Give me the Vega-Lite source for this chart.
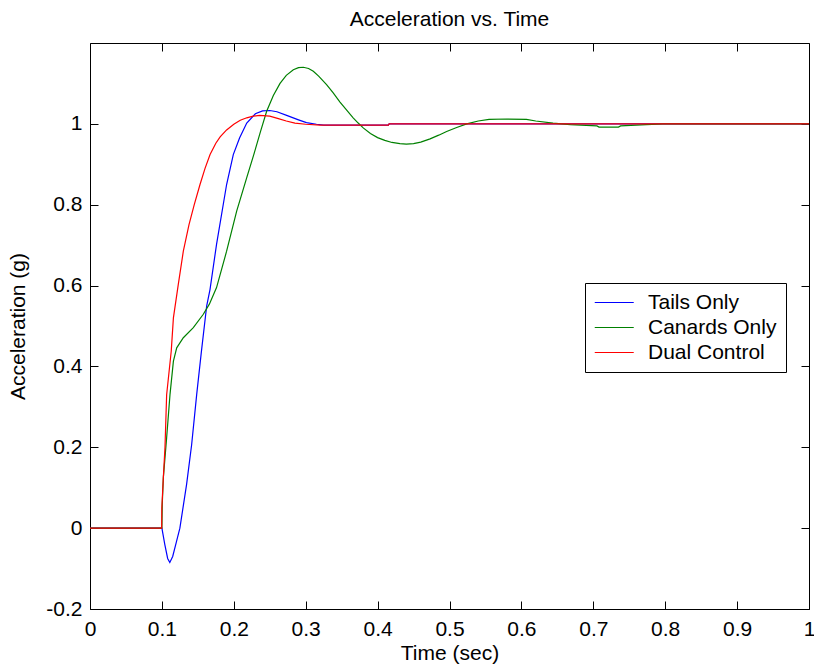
{
  "$schema": "https://vega.github.io/schema/vega-lite/v6.json",
  "width": 719,
  "height": 566,
  "autosize": {"type": "none"},
  "padding": {"left": 90, "top": 43, "right": 5, "bottom": 61},
  "background": "#ffffff",
  "title": {"text": "Acceleration vs. Time", "fontSize": 21, "font": "Liberation Sans", "fontWeight": "normal", "color": "#000", "anchor": "middle", "offset": 13},
  "config": {
    "view": {"stroke": "#000", "strokeWidth": 1},
    "axis": {"grid": false, "domain": false, "tickColor": "#000", "tickSize": -8, "labelFlush": false, "labelOverlap": false, "labelFont": "Liberation Sans", "labelFontSize": 21, "labelColor": "#000", "titleFont": "Liberation Sans", "titleFontSize": 21, "titleFontWeight": "normal", "titleColor": "#000"}
  },
  "data": {"values": [
    {"t": 0, "a": 0, "s": "Tails Only"},
    {"t": 0.1, "a": 0, "s": "Tails Only"},
    {"t": 0.104, "a": -0.04, "s": "Tails Only"},
    {"t": 0.108, "a": -0.075, "s": "Tails Only"},
    {"t": 0.111, "a": -0.085, "s": "Tails Only"},
    {"t": 0.115, "a": -0.07, "s": "Tails Only"},
    {"t": 0.12, "a": -0.035, "s": "Tails Only"},
    {"t": 0.125, "a": 0.0, "s": "Tails Only"},
    {"t": 0.1344, "a": 0.109, "s": "Tails Only"},
    {"t": 0.1414, "a": 0.207, "s": "Tails Only"},
    {"t": 0.1484, "a": 0.331, "s": "Tails Only"},
    {"t": 0.155, "a": 0.438, "s": "Tails Only"},
    {"t": 0.1623, "a": 0.55, "s": "Tails Only"},
    {"t": 0.1669, "a": 0.59, "s": "Tails Only"},
    {"t": 0.176, "a": 0.702, "s": "Tails Only"},
    {"t": 0.19, "a": 0.85, "s": "Tails Only"},
    {"t": 0.1993, "a": 0.924, "s": "Tails Only"},
    {"t": 0.208, "a": 0.965, "s": "Tails Only"},
    {"t": 0.218, "a": 1.002, "s": "Tails Only"},
    {"t": 0.23, "a": 1.025, "s": "Tails Only"},
    {"t": 0.24, "a": 1.032, "s": "Tails Only"},
    {"t": 0.25, "a": 1.033, "s": "Tails Only"},
    {"t": 0.26, "a": 1.03, "s": "Tails Only"},
    {"t": 0.2735, "a": 1.021, "s": "Tails Only"},
    {"t": 0.29, "a": 1.01, "s": "Tails Only"},
    {"t": 0.301, "a": 1.003, "s": "Tails Only"},
    {"t": 0.315, "a": 0.999, "s": "Tails Only"},
    {"t": 0.325, "a": 0.997, "s": "Tails Only"},
    {"t": 0.415, "a": 0.997, "s": "Tails Only"},
    {"t": 0.416, "a": 1.0, "s": "Tails Only"},
    {"t": 1, "a": 1.0, "s": "Tails Only"},
    {"t": 0, "a": 0, "s": "Canards Only"},
    {"t": 0.1, "a": 0, "s": "Canards Only"},
    {"t": 0.1005, "a": 0.06, "s": "Canards Only"},
    {"t": 0.102, "a": 0.125, "s": "Canards Only"},
    {"t": 0.1066, "a": 0.224, "s": "Canards Only"},
    {"t": 0.1113, "a": 0.331, "s": "Canards Only"},
    {"t": 0.116, "a": 0.413, "s": "Canards Only"},
    {"t": 0.1206, "a": 0.446, "s": "Canards Only"},
    {"t": 0.1298, "a": 0.471, "s": "Canards Only"},
    {"t": 0.1437, "a": 0.496, "s": "Canards Only"},
    {"t": 0.1576, "a": 0.529, "s": "Canards Only"},
    {"t": 0.166, "a": 0.554, "s": "Canards Only"},
    {"t": 0.176, "a": 0.595, "s": "Canards Only"},
    {"t": 0.19, "a": 0.685, "s": "Canards Only"},
    {"t": 0.204, "a": 0.784, "s": "Canards Only"},
    {"t": 0.218, "a": 0.867, "s": "Canards Only"},
    {"t": 0.228, "a": 0.925, "s": "Canards Only"},
    {"t": 0.237, "a": 0.98, "s": "Canards Only"},
    {"t": 0.2457, "a": 1.031, "s": "Canards Only"},
    {"t": 0.255, "a": 1.07, "s": "Canards Only"},
    {"t": 0.2643, "a": 1.1, "s": "Canards Only"},
    {"t": 0.273, "a": 1.12, "s": "Canards Only"},
    {"t": 0.2828, "a": 1.134, "s": "Canards Only"},
    {"t": 0.29, "a": 1.139, "s": "Canards Only"},
    {"t": 0.2967, "a": 1.14, "s": "Canards Only"},
    {"t": 0.304, "a": 1.137, "s": "Canards Only"},
    {"t": 0.3106, "a": 1.13, "s": "Canards Only"},
    {"t": 0.318, "a": 1.118, "s": "Canards Only"},
    {"t": 0.329, "a": 1.097, "s": "Canards Only"},
    {"t": 0.338, "a": 1.077, "s": "Canards Only"},
    {"t": 0.3477, "a": 1.054, "s": "Canards Only"},
    {"t": 0.357, "a": 1.034, "s": "Canards Only"},
    {"t": 0.366, "a": 1.015, "s": "Canards Only"},
    {"t": 0.373, "a": 1.002, "s": "Canards Only"},
    {"t": 0.38, "a": 0.99, "s": "Canards Only"},
    {"t": 0.39, "a": 0.976, "s": "Canards Only"},
    {"t": 0.4, "a": 0.966, "s": "Canards Only"},
    {"t": 0.41, "a": 0.959, "s": "Canards Only"},
    {"t": 0.42, "a": 0.954, "s": "Canards Only"},
    {"t": 0.431, "a": 0.951, "s": "Canards Only"},
    {"t": 0.44, "a": 0.95, "s": "Canards Only"},
    {"t": 0.45, "a": 0.951, "s": "Canards Only"},
    {"t": 0.46, "a": 0.955, "s": "Canards Only"},
    {"t": 0.473, "a": 0.963, "s": "Canards Only"},
    {"t": 0.485, "a": 0.972, "s": "Canards Only"},
    {"t": 0.496, "a": 0.981, "s": "Canards Only"},
    {"t": 0.51, "a": 0.991, "s": "Canards Only"},
    {"t": 0.524, "a": 1.0, "s": "Canards Only"},
    {"t": 0.54, "a": 1.007, "s": "Canards Only"},
    {"t": 0.555, "a": 1.011, "s": "Canards Only"},
    {"t": 0.58, "a": 1.012, "s": "Canards Only"},
    {"t": 0.607, "a": 1.011, "s": "Canards Only"},
    {"t": 0.62, "a": 1.007, "s": "Canards Only"},
    {"t": 0.644, "a": 1.002, "s": "Canards Only"},
    {"t": 0.668, "a": 0.998, "s": "Canards Only"},
    {"t": 0.705, "a": 0.995, "s": "Canards Only"},
    {"t": 0.708, "a": 0.992, "s": "Canards Only"},
    {"t": 0.735, "a": 0.992, "s": "Canards Only"},
    {"t": 0.738, "a": 0.995, "s": "Canards Only"},
    {"t": 0.774, "a": 0.998, "s": "Canards Only"},
    {"t": 0.797, "a": 1.0, "s": "Canards Only"},
    {"t": 1, "a": 1.0, "s": "Canards Only"},
    {"t": 0, "a": 0, "s": "Dual Control"},
    {"t": 0.0997, "a": 0, "s": "Dual Control"},
    {"t": 0.0999, "a": 0.05, "s": "Dual Control"},
    {"t": 0.102, "a": 0.125, "s": "Dual Control"},
    {"t": 0.1043, "a": 0.2, "s": "Dual Control"},
    {"t": 0.1066, "a": 0.33, "s": "Dual Control"},
    {"t": 0.113, "a": 0.438, "s": "Dual Control"},
    {"t": 0.116, "a": 0.52, "s": "Dual Control"},
    {"t": 0.1228, "a": 0.603, "s": "Dual Control"},
    {"t": 0.1298, "a": 0.685, "s": "Dual Control"},
    {"t": 0.1377, "a": 0.751, "s": "Dual Control"},
    {"t": 0.145, "a": 0.8, "s": "Dual Control"},
    {"t": 0.153, "a": 0.85, "s": "Dual Control"},
    {"t": 0.16, "a": 0.89, "s": "Dual Control"},
    {"t": 0.167, "a": 0.924, "s": "Dual Control"},
    {"t": 0.175, "a": 0.952, "s": "Dual Control"},
    {"t": 0.181, "a": 0.968, "s": "Dual Control"},
    {"t": 0.19, "a": 0.985, "s": "Dual Control"},
    {"t": 0.2, "a": 0.999, "s": "Dual Control"},
    {"t": 0.209, "a": 1.009, "s": "Dual Control"},
    {"t": 0.218, "a": 1.015, "s": "Dual Control"},
    {"t": 0.227, "a": 1.019, "s": "Dual Control"},
    {"t": 0.236, "a": 1.021, "s": "Dual Control"},
    {"t": 0.25, "a": 1.019, "s": "Dual Control"},
    {"t": 0.262, "a": 1.013, "s": "Dual Control"},
    {"t": 0.273, "a": 1.007, "s": "Dual Control"},
    {"t": 0.285, "a": 1.002, "s": "Dual Control"},
    {"t": 0.3, "a": 0.999, "s": "Dual Control"},
    {"t": 0.32, "a": 0.997, "s": "Dual Control"},
    {"t": 0.415, "a": 0.997, "s": "Dual Control"},
    {"t": 0.416, "a": 1.0, "s": "Dual Control"},
    {"t": 1, "a": 1.0, "s": "Dual Control"}
  ]},
  "layer": [
    {
      "mark": {"type": "line", "strokeWidth": 1.2, "interpolate": "linear"},
      "encoding": {
        "x": {"field": "t", "type": "quantitative", "scale": {"domain": [0, 1], "nice": false, "zero": false},
              "axis": {"orient": "bottom", "values": [0, 0.1, 0.2, 0.3, 0.4, 0.5, 0.6, 0.7, 0.8, 0.9, 1], "labelExpr": "toString(round(datum.value*10)/10)", "title": "Time (sec)", "labelPadding": 17, "titlePadding": 3}},
        "y": {"field": "a", "type": "quantitative", "scale": {"domain": [-0.2, 1.2], "nice": false, "zero": false},
              "axis": {"orient": "left", "values": [-0.2, 0, 0.2, 0.4, 0.6, 0.8, 1], "labelExpr": "toString(round(datum.value*10)/10)", "title": "Acceleration (g)", "labelPadding": 16, "titlePadding": 17}},
        "color": {"field": "s", "type": "nominal", "sort": ["Tails Only", "Canards Only", "Dual Control"],
                  "scale": {"domain": ["Tails Only", "Canards Only", "Dual Control"], "range": ["#0000ff", "#008000", "#ff0000"]},
                  "legend": {"orient": "none", "legendX": 495, "legendY": 240, "title": null, "strokeColor": "#000", "fillColor": "#fff", "padding": 9, "symbolType": "M-1,0H3", "symbolSize": 380, "symbolStrokeWidth": 1.2, "labelFontSize": 21, "labelFont": "Liberation Sans", "labelColor": "#000", "labelOffset": 33, "rowPadding": 3, "cornerRadius": 0,
                             "encode": {"symbols": {"update": {"stroke": {"scale": "color", "field": "value"}, "strokeWidth": {"value": 1.2}}}}}}
      }
    },
    {
      "mark": {"type": "line", "opacity": 0},
      "encoding": {
        "x": {"field": "t", "type": "quantitative", "axis": {"orient": "top", "values": [0, 0.1, 0.2, 0.3, 0.4, 0.5, 0.6, 0.7, 0.8, 0.9, 1], "labels": false, "title": null}},
        "y": {"field": "a", "type": "quantitative", "axis": {"orient": "right", "values": [-0.2, 0, 0.2, 0.4, 0.6, 0.8, 1], "labels": false, "title": null}},
        "detail": {"field": "s"}
      }
    }
  ],
  "resolve": {"axis": {"x": "independent", "y": "independent"}}
}
